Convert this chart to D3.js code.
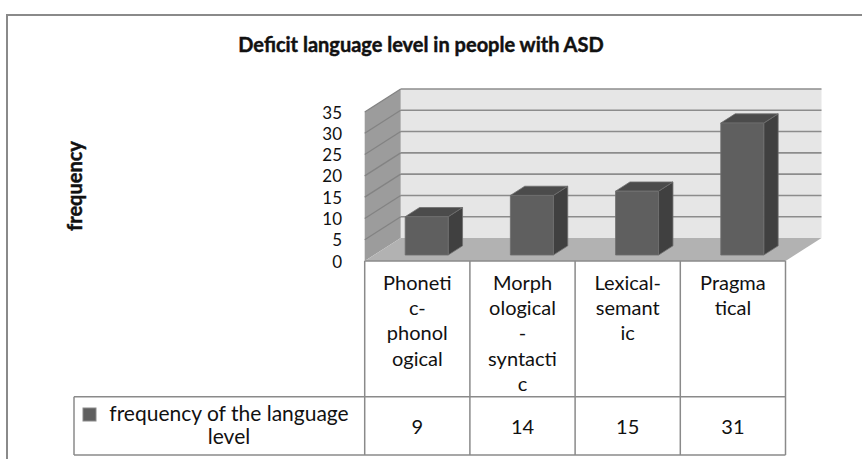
<!DOCTYPE html>
<html><head><meta charset="utf-8">
<script src="https://cdn.jsdelivr.net/npm/d3@7"></script>
<style>
body{margin:0;background:#fff}
svg{display:block}
text{font-family:Lato,"Open Sans",sans-serif;fill:#111}
</style>
</head><body>
<svg id="c" width="862" height="459"></svg>
<script>
const chartTitle = "Deficit language level in people with ASD";
const yAxisTitle = "frequency";
const categories = ["Phonetic-phonological", "Morphological-syntactic", "Lexical-semantic", "Pragmatical"];
const categoryLines = [["Phoneti","c-","phonol","ogical"],["Morph","ological","-","syntacti","c"],["Lexical-","semant","ic"],["Pragma","tical"]];
const seriesName = "frequency of the language level";
const legendLines = ["frequency of the language", "level"];
const values = [9, 14, 15, 31];
const yTicks = [0, 5, 10, 15, 20, 25, 30, 35];

const svg = d3.select("#c");
const W = 862, H = 459;

// 3D layout
const frontL = 364.7, frontR = 785.5;
const DX = 36, DY = 23;         // full depth offset
const d1 = 0.26, d2 = 0.66;     // bar depth range
const barW = 43;

const x = d3.scaleBand().domain(categories).range([frontL, frontR]);
const y = d3.scaleLinear().domain([0, 35]).range([261, 112]);

const P = (px, v, d) => [px + d * DX, y(v) - d * DY];
const poly = pts => "M" + pts.map(p => p.join(",")).join("L") + "Z";

// outer frame
svg.append("path").attr("d", `M7,${H} V15 H${W}`).attr("fill", "none")
  .attr("stroke", "#8a8a8a").attr("stroke-width", 2);

// title
svg.append("text").attr("x", 421).attr("y", 52).attr("text-anchor", "middle")
  .attr("font-size", 20).attr("font-weight", "bold")
  .attr("stroke", "#111").attr("stroke-width", 0.45).text(chartTitle);

// axis title
svg.append("text").attr("transform", "translate(82,186) rotate(-90)")
  .attr("text-anchor", "middle").attr("font-size", 20).attr("font-weight", "bold")
  .attr("stroke", "#111").attr("stroke-width", 0.45).text(yAxisTitle);

const g3 = svg.append("g");
// back wall
g3.append("path").attr("d", poly([P(frontL,0,1), P(frontR,0,1), P(frontR,35,1), P(frontL,35,1)]))
  .attr("fill", "#e6e6e6");
// side wall
g3.append("path").attr("d", poly([P(frontL,0,0), P(frontL,35,0), P(frontL,35,1), P(frontL,0,1)]))
  .attr("fill", "#9c9c9c");
// floor
g3.append("path").attr("d", poly([P(frontL,0,0), P(frontR,0,0), P(frontR,0,1), P(frontL,0,1)]))
  .attr("fill", "#b2b2b2");

// gridlines
yTicks.filter(t => t > 0).forEach(t => {
  const a = P(frontL, t, 1), b = P(frontR, t, 1), c = P(frontL, t, 0);
  g3.append("line").attr("x1", a[0]).attr("y1", a[1]).attr("x2", b[0]).attr("y2", b[1])
    .attr("stroke", "#8c8c8c").attr("stroke-width", 1.6);
  g3.append("line").attr("x1", c[0]).attr("y1", c[1]).attr("x2", a[0]).attr("y2", a[1])
    .attr("stroke", "#838383").attr("stroke-width", 1.3);
});

// bars
categories.forEach((c, i) => {
  const v = values[i];
  const cx = x(c) + x.bandwidth() / 2;
  const l = cx - barW / 2, r = cx + barW / 2;
  const gb = g3.append("g").attr("stroke", "#6e6e6e").attr("stroke-width", 0.8).attr("stroke-linejoin", "round");
  gb.append("path").attr("d", poly([P(r,0,d1), P(r,v,d1), P(r,v,d2), P(r,0,d2)])).attr("fill", "#404040");
  gb.append("path").attr("d", poly([P(l,v,d1), P(r,v,d1), P(r,v,d2), P(l,v,d2)])).attr("fill", "#4b4b4b");
  gb.append("path").attr("d", poly([P(l,0,d1), P(r,0,d1), P(r,v,d1), P(l,v,d1)])).attr("fill", "#5f5f5f");
});

// y axis labels
const ax = svg.append("g").attr("transform", "translate(345,0)")
  .call(d3.axisLeft(y).tickValues(yTicks).tickSize(0).tickPadding(3));
ax.select(".domain").remove();
ax.selectAll("text").attr("font-size", 17).attr("font-family", "Lato, 'Open Sans', sans-serif").attr("fill", "#111").attr("dy", "0.36em");

// data table
const tb = svg.append("g").attr("stroke", "#8a8a8a").attr("stroke-width", 1.5);
const rowTop = 261, rowMid = 396.7, rowBot = 455, legL = 74;
const edges = categories.map(c => x(c)).concat([frontR]);
edges.forEach(e => tb.append("line").attr("x1", e).attr("x2", e).attr("y1", rowTop).attr("y2", rowBot));
tb.append("line").attr("x1", frontL).attr("x2", frontR).attr("y1", rowTop).attr("y2", rowTop);
tb.append("line").attr("x1", legL).attr("x2", frontR).attr("y1", rowMid).attr("y2", rowMid);
tb.append("line").attr("x1", legL).attr("x2", frontR).attr("y1", rowBot).attr("y2", rowBot);
tb.append("line").attr("x1", legL).attr("x2", legL).attr("y1", rowMid).attr("y2", rowBot);

categories.forEach((c, i) => {
  const cx = x(c) + x.bandwidth() / 2;
  const t = svg.append("text").attr("text-anchor", "middle").attr("font-size", 20);
  categoryLines[i].forEach((ln, k) => {
    t.append("tspan").attr("x", cx).attr("y", 283 + k * 25.2).attr("dy", "0.35em").text(ln);
  });
  svg.append("text").attr("x", cx).attr("y", 427).attr("dy", "0.35em")
    .attr("text-anchor", "middle").attr("font-size", 20).text(values[i]);
});

// legend
svg.append("rect").attr("x", 83).attr("y", 408).attr("width", 13).attr("height", 13)
  .attr("fill", "#5f5f5f").attr("stroke", "#8a8a8a").attr("stroke-width", 1);
const lt = svg.append("text").attr("text-anchor", "middle").attr("font-size", 21);
lt.append("title").text(seriesName);
legendLines.forEach((ln, k) => {
  lt.append("tspan").attr("x", 229).attr("y", 414 + k * 23).attr("dy", "0.35em").text(ln);
});
</script>
</body></html>
